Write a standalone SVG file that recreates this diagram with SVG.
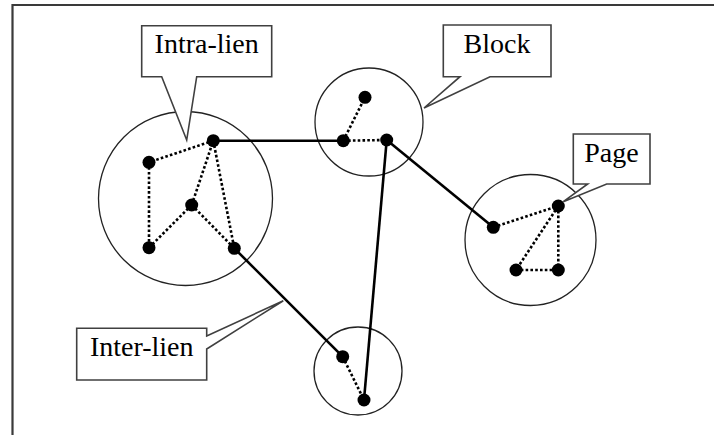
<svg xmlns="http://www.w3.org/2000/svg" width="714" height="435" viewBox="0 0 714 435">
<style>
.frame{stroke:#3a3a3a;stroke-width:2.2;fill:none}
.cluster{fill:none;stroke:#222;stroke-width:1.3}
.callout{fill:#fff;stroke:#404040;stroke-width:1.6;stroke-linejoin:miter}
.lbl{font-size:28px;fill:#000;text-anchor:middle}
.inter{stroke:#000;stroke-width:2.6;fill:none}
.intra{stroke:#000;stroke-width:2.6;stroke-dasharray:2.6 2.2;fill:none}
.dot{fill:#000}
</style>
<path class="frame" d="M12.5,435 V5 H714"/>
<g id="clusters">
<circle id="cluster-left" class="cluster" cx="185.5" cy="198.5" r="87"/>
<circle id="cluster-block" class="cluster" cx="369" cy="122" r="54"/>
<circle id="cluster-page" class="cluster" cx="530.5" cy="240" r="65.5"/>
<circle id="cluster-bottom" class="cluster" cx="358" cy="371" r="44"/>
</g>
<g id="connectors">
<line class="intra" x1="213.3" y1="140.7" x2="149" y2="162.3"/>
<line class="intra" x1="149" y1="162.3" x2="149" y2="247.7"/>
<line class="intra" x1="149" y1="247.7" x2="191.7" y2="205"/>
<line class="intra" x1="191.7" y1="205" x2="213.3" y2="140.7"/>
<line class="intra" x1="213.3" y1="140.7" x2="234.3" y2="248.3"/>
<line class="intra" x1="191.7" y1="205" x2="234.3" y2="248.3"/>
<line class="intra" x1="343.3" y1="140.7" x2="365" y2="97.3"/>
<line class="intra" x1="343.3" y1="140.7" x2="386.7" y2="140"/>
<line class="intra" x1="493.3" y1="227.3" x2="558.3" y2="206"/>
<line class="intra" x1="558.3" y1="206" x2="516" y2="270"/>
<line class="intra" x1="558.3" y1="206" x2="558.3" y2="270"/>
<line class="intra" x1="516" y1="270" x2="558.3" y2="270"/>
<line class="intra" x1="342.7" y1="356.7" x2="364" y2="400"/>
<line class="inter" x1="213.3" y1="140.7" x2="343.3" y2="140.7"/>
<line class="inter" x1="386.7" y1="140" x2="493.3" y2="227.3"/>
<line class="inter" x1="386.7" y1="140" x2="364" y2="400"/>
<line class="inter" x1="234.3" y1="248.3" x2="342.7" y2="356.7"/>
</g>
<g id="nodes">
<circle id="n1" class="dot" cx="213.3" cy="140.7" r="6.5"/>
<circle id="n2" class="dot" cx="149" cy="162.3" r="6.5"/>
<circle id="n3" class="dot" cx="191.7" cy="205" r="6.5"/>
<circle id="n4" class="dot" cx="149" cy="247.7" r="6.5"/>
<circle id="n5" class="dot" cx="234.3" cy="248.3" r="6.5"/>
<circle id="n6" class="dot" cx="365" cy="97.3" r="6.5"/>
<circle id="n7" class="dot" cx="343.3" cy="140.7" r="6.5"/>
<circle id="n8" class="dot" cx="386.7" cy="140" r="6.5"/>
<circle id="n9" class="dot" cx="493.3" cy="227.3" r="6.5"/>
<circle id="n10" class="dot" cx="558.3" cy="206" r="6.5"/>
<circle id="n11" class="dot" cx="516" cy="270" r="6.5"/>
<circle id="n12" class="dot" cx="558.3" cy="270" r="6.5"/>
<circle id="n13" class="dot" cx="342.7" cy="356.7" r="6.5"/>
<circle id="n14" class="dot" cx="364" cy="400" r="6.5"/>
</g>
<g id="callout-intra">
<path class="callout" d="M141.7,25.7 H271.7 V76.7 H196.7 L186.7,140 L161.7,76.7 H141.7 Z"/>
<text class="lbl" font-family="'Liberation Serif', 'DejaVu Serif', serif" x="206.7" y="53">Intra-lien</text>
</g>
<g id="callout-block">
<path class="callout" d="M443.3,25 H551 V76.7 H490 L424,108 L460,76.7 H443.3 Z"/>
<text class="lbl" font-family="'Liberation Serif', 'DejaVu Serif', serif" x="497" y="53">Block</text>
</g>
<g id="callout-page">
<path class="callout" d="M573.3,134 H650 V184 H606.7 L563.3,201.7 L587.7,184 H573.3 Z"/>
<text class="lbl" font-family="'Liberation Serif', 'DejaVu Serif', serif" x="611.5" y="162">Page</text>
</g>
<g id="callout-inter">
<path class="callout" d="M76.7,328.3 H206.7 V336 L283.3,300.7 L206.7,349 V380 H76.7 Z"/>
<text class="lbl" font-family="'Liberation Serif', 'DejaVu Serif', serif" x="141.7" y="356">Inter-lien</text>
</g>
</svg>
